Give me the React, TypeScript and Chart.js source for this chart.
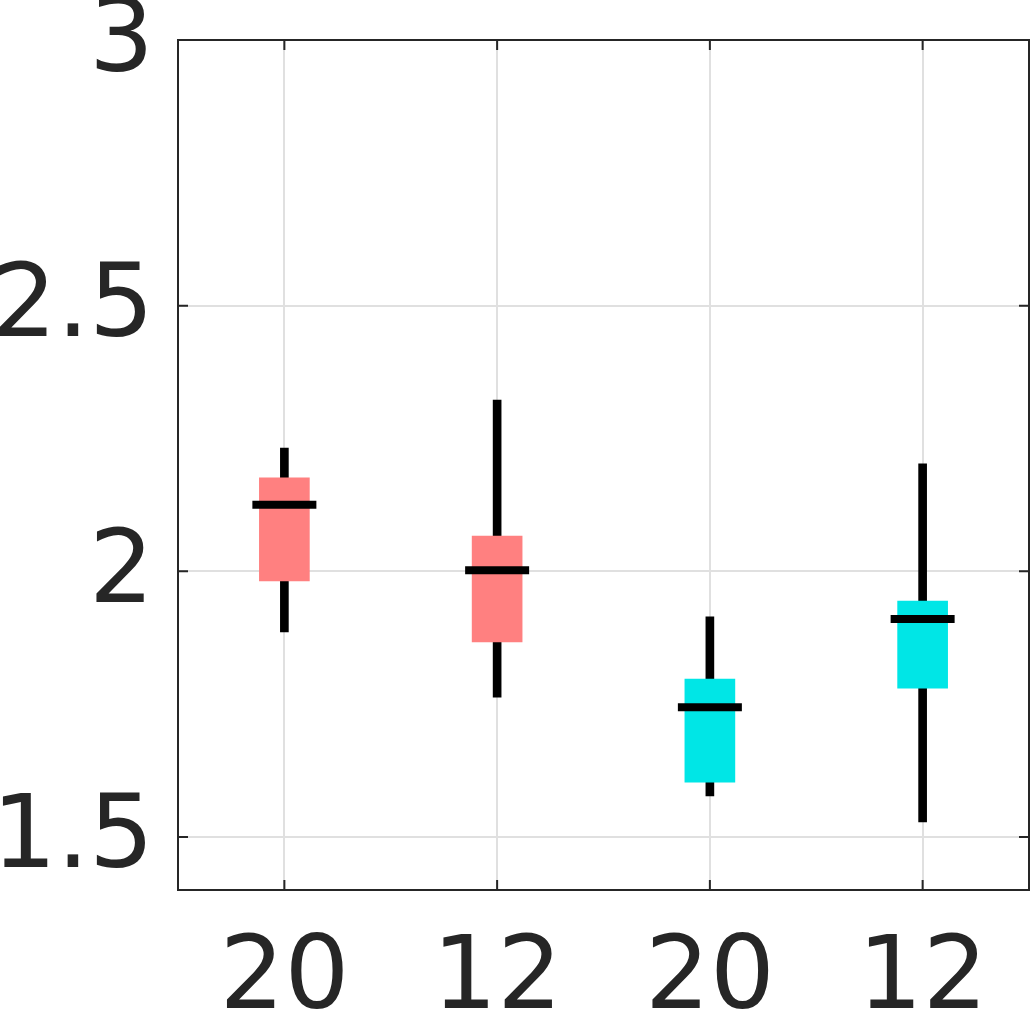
import React, { useEffect, useRef } from 'react';
import { Chart, registerables } from 'chart.js';

Chart.register(...registerables);

const categories = ['20', '12', '20', '12'];
const whiskerLow = [1.886, 1.763, 1.577, 1.528];
const whiskerHigh = [2.232, 2.322, 1.914, 2.202];
const boxLow = [1.982, 1.867, 1.603, 1.78];
const boxHigh = [2.176, 2.066, 1.797, 1.944];
const medians = [2.125, 2.002, 1.744, 1.91];
const boxColors = ['#FF8080', '#FF8080', '#00E6E6', '#00E6E6'];
const yTicks = [1.5, 2, 2.5, 3];
const yMin = 1.4;
const yMax = 3;

const AXIS_COLOR = '#262626';
const GRID_COLOR = '#e0e0e0';
const FONT = 'DejaVu Sans';
const FONT_SIZE = 102;

const frameAndTicks = {
  id: 'frameAndTicks',
  afterDraw(chart: any) {
    const { ctx, chartArea: a, scales } = chart;
    const L = 10;
    ctx.save();
    ctx.strokeStyle = AXIS_COLOR;
    ctx.lineWidth = 2;
    ctx.beginPath();
    scales.y.ticks.forEach((t: any) => {
      const py = scales.y.getPixelForValue(t.value);
      ctx.moveTo(a.left, py);
      ctx.lineTo(a.left + L, py);
      ctx.moveTo(a.right, py);
      ctx.lineTo(a.right - L, py);
    });
    scales.x.ticks.forEach((_t: any, i: number) => {
      const px = scales.x.getPixelForTick(i);
      ctx.moveTo(px, a.bottom);
      ctx.lineTo(px, a.bottom - L);
      ctx.moveTo(px, a.top);
      ctx.lineTo(px, a.top + L);
    });
    ctx.stroke();
    ctx.strokeRect(a.left, a.top, a.right - a.left, a.bottom - a.top);
    ctx.restore();
  },
};

export default function App() {
  const ref = useRef<HTMLCanvasElement | null>(null);

  useEffect(() => {
    if (!ref.current) return;
    const chart = new Chart(ref.current, {
      type: 'bar',
      data: {
        labels: categories,
        datasets: [
          {
            type: 'line',
            label: 'median',
            data: medians,
            showLine: false,
            pointStyle: 'line',
            pointRadius: 32,
            pointBorderWidth: 8,
            pointBorderColor: '#000000',
            pointBackgroundColor: '#000000',
          } as any,
          {
            type: 'bar',
            label: 'box',
            data: boxLow.map((v, i) => [v, boxHigh[i]]),
            backgroundColor: boxColors,
            borderWidth: 0,
            barThickness: 50,
            grouped: false,
          } as any,
          {
            type: 'bar',
            label: 'whisker',
            data: whiskerLow.map((v, i) => [v, whiskerHigh[i]]),
            backgroundColor: '#000000',
            borderWidth: 0,
            barThickness: 8,
            grouped: false,
          } as any,
        ],
      },
      options: {
        responsive: false,
        animation: false,
        events: [],
        layout: { autoPadding: false, padding: { top: 40, right: 2, left: 0, bottom: 0 } },
        plugins: {
          legend: { display: false },
          tooltip: { enabled: false },
          title: { display: false },
        },
        scales: {
          x: {
            type: 'category',
            offset: true,
            grid: { offset: false, color: GRID_COLOR, lineWidth: 2, drawTicks: false },
            border: { display: false },
            ticks: {
              color: AXIS_COLOR,
              font: { family: FONT, size: FONT_SIZE },
              padding: 30,
              maxRotation: 0,
              autoSkip: false,
            },
            afterFit: (s: any) => {
              s.height = 122;
              s.paddingLeft = 0;
              s.paddingRight = 0;
            },
          },
          y: {
            type: 'linear',
            min: yMin,
            max: yMax,
            grid: { color: GRID_COLOR, lineWidth: 2, drawTicks: false },
            border: { display: false },
            afterBuildTicks: (s: any) => {
              s.ticks = yTicks.map((v) => ({ value: v }));
            },
            ticks: {
              color: AXIS_COLOR,
              font: { family: FONT, size: FONT_SIZE },
              padding: 24,
              labelOffset: 4,
              callback: (v: any) => String(v),
            },
            afterFit: (s: any) => {
              s.width = 178;
              s.paddingTop = 0;
              s.paddingBottom = 0;
            },
          },
        },
      },
      plugins: [frameAndTicks],
    });
    return () => chart.destroy();
  }, []);

  return (
    <div style={{ position: 'absolute', left: 0, top: 0, width: 1031, height: 1012, background: '#ffffff' }}>
      <canvas ref={ref} width={1031} height={1012} style={{ display: 'block' }} />
    </div>
  );
}
